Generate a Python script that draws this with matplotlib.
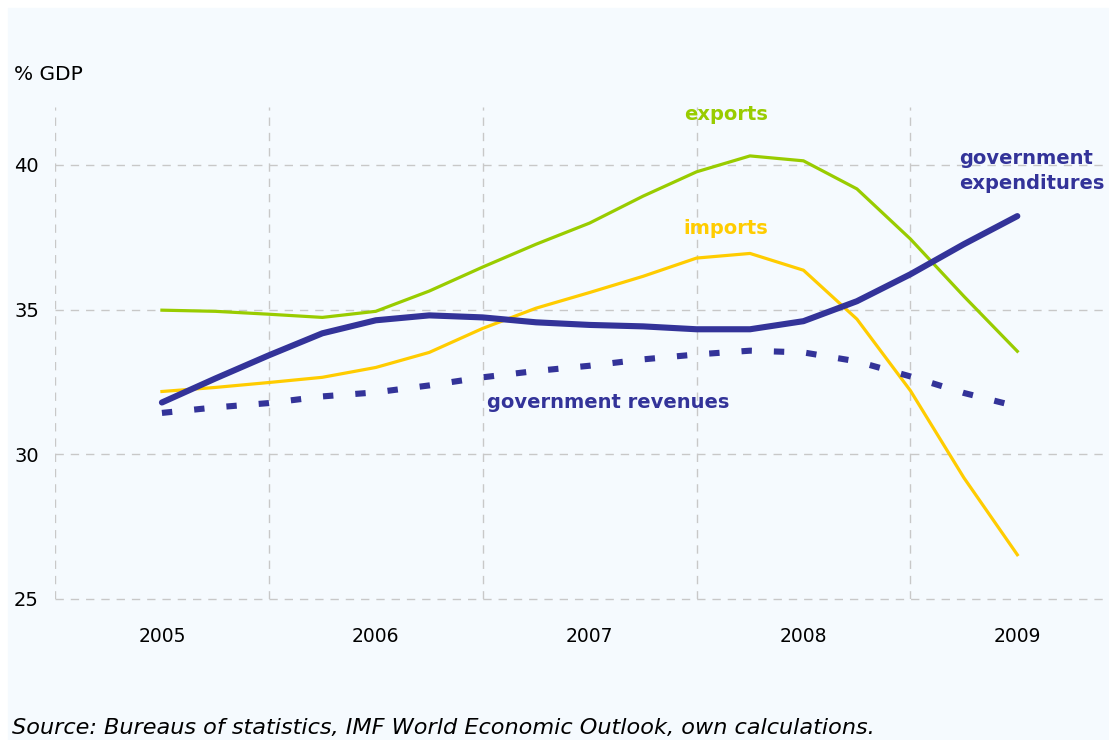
import numpy as np
import matplotlib
matplotlib.use("Agg")
import matplotlib.pyplot as plt
from matplotlib.patches import Rectangle

# quarterly observations, 2005 to 2009
years = [2005, 2006, 2007, 2008, 2009]
quarters = np.arange(17) / 4.0

exports = [34.98, 34.94, 34.84, 34.73, 34.94, 35.64, 36.47, 37.26, 37.99,
           38.92, 39.76, 40.31, 40.14, 39.17, 37.44, 35.46, 33.56]
imports = [32.17, 32.31, 32.48, 32.66, 33.00, 33.52, 34.35, 35.05, 35.59,
           36.15, 36.78, 36.94, 36.36, 34.67, 32.20, 29.19, 26.53]
gov_exp = [31.79, 32.62, 33.42, 34.18, 34.63, 34.80, 34.73, 34.56, 34.47,
           34.42, 34.32, 34.32, 34.60, 35.29, 36.22, 37.26, 38.23]
gov_rev = [31.43, 31.62, 31.77, 32.00, 32.14, 32.38, 32.66, 32.88, 33.06,
           33.28, 33.45, 33.58, 33.52, 33.21, 32.69, 32.12, 31.65]

yticks = [25, 30, 35, 40]

GREEN = "#99cc00"
YELLOW = "#ffcc00"
NAVY = "#333399"
BG = "#f5fafe"

plt.rcParams["font.family"] = ["DejaVu Sans"]

fig = plt.figure(figsize=(11.09, 7.40), dpi=100)
fig.patches.append(Rectangle((8 / 1109, 0), 1, 1 - 8 / 740,
                             transform=fig.transFigure, color=BG, zorder=-10))

ax = fig.add_axes([55 / 1109, 1 - 599 / 740, 1050 / 1109, 492 / 740])
ax.set_facecolor("none")
ax.set_zorder(1)

ax.plot(quarters, exports, color=GREEN, lw=2.3)
ax.plot(quarters, imports, color=YELLOW, lw=2.3)
ax.plot(quarters, gov_exp, color=NAVY, lw=4.4, solid_capstyle="round",
        solid_joinstyle="round")
ax.plot(quarters, gov_rev, color=NAVY, lw=4.4, ls=(0, (1.7, 3.6)))

ax.set_xlim(-0.5, 4.41)
ax.set_ylim(25, 42)

ax.set_xticks(range(len(years)))
ax.set_xticklabels([str(y) for y in years], fontsize=13.5)
ax.set_xticks(np.arange(len(years)) - 0.5, minor=True)
ax.set_yticks(yticks)
ax.set_yticklabels([str(v) for v in yticks], fontsize=14)
for lab in ax.get_yticklabels():
    lab.set_horizontalalignment("left")
ax.tick_params(axis="y", length=0, pad=29.5)
ax.tick_params(axis="x", which="both", length=0, pad=20)

ax.grid(axis="y", which="major", color="#c8c8c8", ls=(0, (6, 5)), lw=1)
ax.grid(axis="x", which="minor", color="#c8c8c8", ls=(0, (6, 5)), lw=1)
for gl in ax.get_ygridlines():
    gl.set_clip_on(False)
for s in ax.spines.values():
    s.set_visible(False)

ax.text(2.44, 42 - (114 - 107) / 28.9, "exports", color=GREEN,
        fontsize=14, fontweight="bold", va="center", ha="left")
ax.text(2.44, 42 - (228 - 107) / 28.9, "imports", color=YELLOW,
        fontsize=14, fontweight="bold", va="center", ha="left")
ax.text(3.73, 42 - (171 - 107) / 28.9, "government\nexpenditures",
        color=NAVY, fontsize=14, fontweight="bold", va="center", ha="left",
        linespacing=1.4)
ax.text(1.52, 42 - (402 - 107) / 28.9, "government revenues", color=NAVY,
        fontsize=14, fontweight="bold", va="center", ha="left")

fig.text(14 / 1109, 1 - 74 / 740, "% GDP", fontsize=14.5, va="center",
         ha="left")
fig.text(12 / 1109, 1 - 728 / 740,
         "Source: Bureaus of statistics, IMF World Economic Outlook, own calculations.",
         fontsize=16.1, style="italic", va="center", ha="left")

fig.savefig("out.png", dpi=100)
